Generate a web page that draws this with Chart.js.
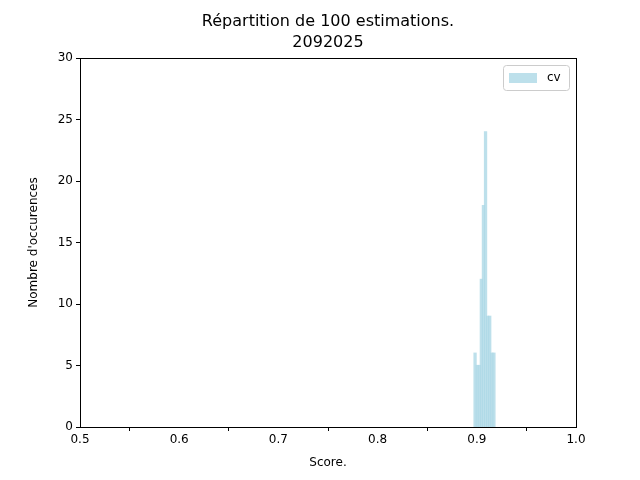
<!DOCTYPE html>
<html>
<head>
<meta charset="utf-8">
<script src="https://cdn.jsdelivr.net/npm/chart.js@4"></script>
<style>
  html, body { margin: 0; padding: 0; background: #fff; }
  #wrap { width: 640px; height: 480px; }
</style>
</head>
<body>
<div id="wrap"><canvas id="chart" width="640" height="480"></canvas></div>
<script>
// Histogram bins (left edges) and counts
const binStart = 0.8972;
const binWidth = 0.00211;
const counts = [6, 5, 5, 12, 18, 24, 9, 9, 6, 6];
const titleLines = ['Répartition de 100 estimations.', '2092025'];
const seriesLabel = 'cv';
const barColor = 'rgba(173, 216, 230, 0.8)';

const points = counts.map((c, i) => ({ x: binStart + binWidth * (i + 0.5), y: c }));

// Title over the plot, full frame and a matplotlib-like legend box
const decorations = {
    id: 'decorations',
    afterDraw(chart) {
        const { ctx, chartArea } = chart;
        ctx.save();
        ctx.strokeStyle = '#000';
        ctx.lineWidth = 1;
        ctx.strokeRect(chartArea.left + 0.5, chartArea.top + 0.5,
            chartArea.right - chartArea.left, chartArea.bottom - chartArea.top);

        ctx.fillStyle = '#000';
        ctx.font = '16px "DejaVu Sans"';
        ctx.textAlign = 'center';
        ctx.textBaseline = 'middle';
        const cx = (chartArea.left + chartArea.right) / 2;
        ctx.fillText(titleLines[0], cx, 22);
        ctx.fillText(titleLines[1], cx, 43);

        const w = 66, h = 25;
        const x = chartArea.right - 7 - w, y = chartArea.top + 7;
        ctx.fillStyle = 'rgba(255,255,255,0.8)';
        ctx.strokeStyle = '#cccccc';
        ctx.beginPath();
        ctx.roundRect(x + 0.5, y + 0.5, w, h, 3);
        ctx.fill();
        ctx.stroke();
        ctx.fillStyle = barColor;
        ctx.fillRect(x + 6, y + 8, 28, 10);
        ctx.fillStyle = '#000';
        ctx.font = '12px "DejaVu Sans"';
        ctx.textAlign = 'left';
        ctx.fillText(seriesLabel, x + 44, y + 13);
        ctx.restore();
    }
};

new Chart(document.getElementById('chart'), {
    type: 'bar',
    data: {
        datasets: [{
            label: seriesLabel,
            data: points,
            backgroundColor: barColor,
            borderWidth: 0,
            inflateAmount: 0.6,
            barPercentage: 1,
            categoryPercentage: 1
        }]
    },
    options: {
        responsive: false,
        animation: false,
        layout: { padding: { left: 27, right: 64, top: 58, bottom: 0 } },
        plugins: {
            legend: { display: false },
            tooltip: { enabled: false }
        },
        scales: {
            x: {
                type: 'linear',
                min: 0.5,
                max: 1.0,
                offset: false,
                grid: { display: true, drawOnChartArea: false, tickLength: 4, color: '#000' },
                border: { color: '#000' },
                ticks: {
                    stepSize: 0.1,
                    color: '#000',
                    padding: 2,
                    font: { family: 'DejaVu Sans', size: 12 },
                    callback: v => v.toFixed(1)
                },
                title: {
                    display: true,
                    text: 'Score.',
                    color: '#000',
                    padding: { top: 2, bottom: 10 },
                    font: { family: 'DejaVu Sans', size: 12 }
                },
                afterFit(s) { s.height = 53; }
            },
            y: {
                min: 0,
                max: 30,
                grid: { display: true, drawOnChartArea: false, tickLength: 4, color: '#000' },
                border: { color: '#000' },
                ticks: {
                    stepSize: 5,
                    color: '#000',
                    padding: 3,
                    font: { family: 'DejaVu Sans', size: 12 }
                },
                title: {
                    display: true,
                    text: "Nombre d'occurences",
                    color: '#000',
                    padding: 0,
                    font: { family: 'DejaVu Sans', size: 12 }
                },
                afterFit(s) { s.width = 53; }
            }
        }
    },
    plugins: [decorations]
});
</script>
</body>
</html>
